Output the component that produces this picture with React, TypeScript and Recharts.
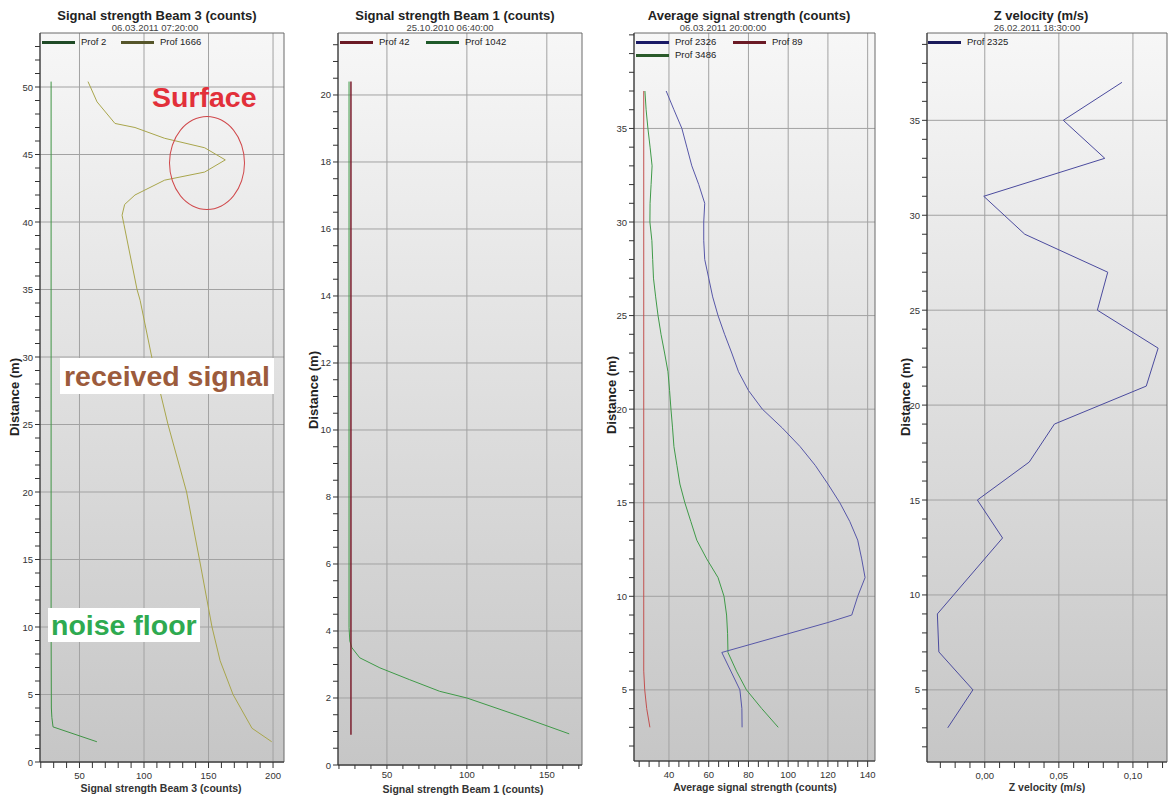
import React from 'react';
import { ScatterChart, Scatter, XAxis, YAxis, CartesianGrid, ReferenceArea } from 'recharts';

const FONT = '"Liberation Sans", Arial, sans-serif';
const H = 795;
const PLOT_TOP = 33;

type Pt = { v: number; d: number };

// Signal strength Beam 3 (counts) - 06.03.2011 07:20:00
const beam3Prof2: Pt[] = [
  { v: 28, d: 50.4 }, { v: 28, d: 30 }, { v: 28, d: 10 }, { v: 28.2, d: 4 },
  { v: 28.6, d: 3.3 }, { v: 29.5, d: 2.6 }, { v: 63.5, d: 1.5 },
];
const beam3Prof1666: Pt[] = [
  { v: 56.6, d: 50.4 }, { v: 63.6, d: 48.9 }, { v: 77.5, d: 47.3 }, { v: 93, d: 47 },
  { v: 116, d: 46.2 }, { v: 147, d: 45.5 }, { v: 163, d: 44.6 }, { v: 147, d: 43.7 },
  { v: 116, d: 43.1 }, { v: 93, d: 42 }, { v: 85, d: 41.3 }, { v: 83, d: 40.5 },
  { v: 84.5, d: 39.8 }, { v: 94.6, d: 35 }, { v: 97, d: 34.2 }, { v: 106, d: 30 },
  { v: 118.6, d: 25 }, { v: 133, d: 20 }, { v: 143, d: 15 }, { v: 152.7, d: 10 },
  { v: 159, d: 7.5 }, { v: 169, d: 5 }, { v: 183.7, d: 2.5 }, { v: 199, d: 1.5 },
];

// Signal strength Beam 1 (counts) - 25.10.2010 06:40:00
const beam1Prof42: Pt[] = [{ v: 27.5, d: 0.9 }, { v: 27.5, d: 20.4 }];
const beam1Prof1042: Pt[] = [
  { v: 26.3, d: 20.4 }, { v: 26.3, d: 4.1 }, { v: 26.8, d: 3.7 }, { v: 28.1, d: 3.5 },
  { v: 33, d: 3.2 }, { v: 45.6, d: 2.9 }, { v: 64, d: 2.55 }, { v: 83, d: 2.2 },
  { v: 100, d: 2.0 }, { v: 133, d: 1.46 }, { v: 164, d: 0.93 },
];

// Average signal strength (counts) - 06.03.2011 20:00:00
const avgProf2326: Pt[] = [
  { v: 38.6, d: 37 }, { v: 42.5, d: 36 }, { v: 46.5, d: 35 }, { v: 49, d: 34 },
  { v: 51.5, d: 33 }, { v: 55, d: 32 }, { v: 58, d: 31 }, { v: 57.5, d: 30 },
  { v: 57.5, d: 29 }, { v: 58, d: 28 }, { v: 60, d: 27 }, { v: 62, d: 26 },
  { v: 64.7, d: 25 }, { v: 68, d: 24 }, { v: 71.6, d: 23 }, { v: 75, d: 22 },
  { v: 80, d: 21 }, { v: 87, d: 20 }, { v: 97, d: 19 }, { v: 106, d: 18 },
  { v: 113.6, d: 17 }, { v: 120, d: 16 }, { v: 126, d: 15 }, { v: 131, d: 14 },
  { v: 135, d: 13 }, { v: 137, d: 12 }, { v: 138.7, d: 11 }, { v: 135, d: 10 },
  { v: 132, d: 9 }, { v: 120, d: 8.6 }, { v: 66.6, d: 7 }, { v: 75.7, d: 5 },
  { v: 76.7, d: 4 }, { v: 76.8, d: 3 },
];
const avgProf89: Pt[] = [
  { v: 27.3, d: 37 }, { v: 27.3, d: 6 }, { v: 27.8, d: 5 }, { v: 28.8, d: 4 }, { v: 30.4, d: 3 },
];
const avgProf3486: Pt[] = [
  { v: 27.9, d: 37 }, { v: 28.5, d: 36 }, { v: 29.4, d: 35 }, { v: 30.5, d: 34 },
  { v: 31.5, d: 33 }, { v: 31, d: 32 }, { v: 30.5, d: 31 }, { v: 30.4, d: 30 },
  { v: 31.4, d: 29 }, { v: 31.8, d: 28 }, { v: 32.2, d: 27 }, { v: 33.3, d: 26 },
  { v: 34.5, d: 25 }, { v: 36, d: 24 }, { v: 37.8, d: 23 }, { v: 39.5, d: 22 },
  { v: 40.3, d: 21 }, { v: 41, d: 20 }, { v: 41.8, d: 19 }, { v: 42.5, d: 18 },
  { v: 44, d: 17 }, { v: 45.5, d: 16 }, { v: 48, d: 15 }, { v: 51, d: 14 },
  { v: 54, d: 13 }, { v: 59, d: 12 }, { v: 64.7, d: 11 }, { v: 67.7, d: 10 },
  { v: 69, d: 9 }, { v: 69.5, d: 8 }, { v: 69.7, d: 7 }, { v: 74, d: 6 },
  { v: 79, d: 5 }, { v: 86.7, d: 4 }, { v: 95, d: 3 },
];

// Z velocity (m/s) - 26.02.2011 18:30:00
const zvelProf2325: Pt[] = [
  { v: 0.0926, d: 37 }, { v: 0.053, d: 35 }, { v: 0.081, d: 33 }, { v: -0.0007, d: 31 },
  { v: 0.027, d: 29 }, { v: 0.083, d: 27 }, { v: 0.076, d: 25 }, { v: 0.117, d: 23 },
  { v: 0.109, d: 21 }, { v: 0.047, d: 19 }, { v: 0.03, d: 17 }, { v: -0.005, d: 15 },
  { v: 0.012, d: 13 }, { v: -0.032, d: 9 }, { v: -0.031, d: 7 }, { v: -0.008, d: 5 },
  { v: -0.025, d: 3 },
];

// major (labelled) ticks
const p1YMajor = [0, 5, 10, 15, 20, 25, 30, 35, 40, 45, 50];
const p1XMajor = [50, 100, 150, 200];
const p2YMajor = [0, 2, 4, 6, 8, 10, 12, 14, 16, 18, 20];
const p2XMajor = [50, 100, 150];
const p3YMajor = [5, 10, 15, 20, 25, 30, 35];
const p3XMajor = [40, 60, 80, 100, 120, 140];
const p4YMajor = [5, 10, 15, 20, 25, 30, 35];
const p4XMajor = [0, 0.05, 0.1];

const steps = (from: number, to: number, step: number) => {
  const out: number[] = [];
  for (let i = 0; from + i * step <= to + 1e-9; i++) out.push(Math.round((from + i * step) * 1e6) / 1e6);
  return out;
};

const NoDot = () => <g />;

interface Series { name: string; data: Pt[]; line: string; w?: number }
interface LegendItem { name: string; color: string; x: number; y: number }
interface PanelCfg {
  id: string; left: number; width: number; plotLeft: number; plotRight: number; plotBottom: number;
  xDomain: [number, number]; yDomain: [number, number];
  xTicks: number[]; yTicks: number[]; xMajor: number[]; yMajor: number[];
  fmtX: (v: number) => string; series: Series[];
  tickSize: number; tickMargin: number;
  title: string; titleX: number; sub: string; subX: number;
  xLabel: string; xLabelX: number; xLabelY: number; yLabelX: number; yLabelY: number;
  legend: LegendItem[];
}

const isMajor = (majors: number[], v: number) => majors.some((m) => Math.abs(m - v) < 1e-9);

const Panel = ({ c }: { c: PanelCfg }) => {
  const xTick = (p: any) =>
    isMajor(c.xMajor, p.payload.value) ? (
      <text x={p.x} y={p.y} dy={8.5} textAnchor="middle" fontSize={9.5} fill="#333" fontFamily={FONT}>
        {c.fmtX(p.payload.value)}
      </text>
    ) : <g />;
  const yTick = (p: any) =>
    isMajor(c.yMajor, p.payload.value) ? (
      <text x={p.x} y={p.y} dy={3.5} textAnchor="end" fontSize={9.5} fill="#333" fontFamily={FONT}>
        {p.payload.value}
      </text>
    ) : <g />;
  return (
    <div style={{ position: 'absolute', left: c.left, top: 0 }}>
      <ScatterChart
        width={c.width}
        height={H}
        margin={{ top: PLOT_TOP, right: c.width - c.plotRight, bottom: 0, left: 0 }}
      >
        <defs>
          <linearGradient id={`bg-${c.id}`} x1="0" y1="0" x2="0" y2="1">
            <stop offset="0%" stopColor="#f7f7f7" />
            <stop offset="100%" stopColor="#c6c6c6" />
          </linearGradient>
        </defs>
        <CartesianGrid
          fill={`url(#bg-${c.id})`}
          stroke="#a2a2a2"
          horizontalValues={c.yMajor}
          verticalValues={c.xMajor}
        />
        <XAxis
          type="number"
          dataKey="v"
          domain={c.xDomain}
          ticks={c.xTicks}
          interval={0}
          allowDataOverflow
          height={H - c.plotBottom}
          tickSize={c.tickSize}
          tickMargin={c.tickMargin}
          stroke="#333"
          tick={xTick}
        />
        <YAxis
          type="number"
          dataKey="d"
          domain={c.yDomain}
          ticks={c.yTicks}
          interval={0}
          allowDataOverflow
          width={c.plotLeft}
          tickSize={5}
          tickMargin={2}
          stroke="#333"
          tick={yTick}
        />
        <ReferenceArea
          x1={c.xDomain[0]} x2={c.xDomain[1]} y1={c.yDomain[0]} y2={c.yDomain[1]}
          fill="none" stroke="#6a6a6a" ifOverflow="visible"
        />
        {c.series.map((s) => (
          <Scatter
            key={s.name}
            name={s.name}
            data={s.data}
            line={{ stroke: s.line, strokeWidth: s.w ?? 1 }}
            lineType="joint"
            shape={NoDot}
            isAnimationActive={false}
          />
        ))}
      </ScatterChart>
    </div>
  );
};

const txt = (x: number, y: number, extra: React.CSSProperties = {}): React.CSSProperties => ({
  position: 'absolute', left: x, top: y, transform: 'translate(-50%, -50%)',
  whiteSpace: 'nowrap', lineHeight: 1, fontFamily: FONT, color: '#222', ...extra,
});

const Overlay = ({ c }: { c: PanelCfg }) => (
  <>
    <div style={txt(c.titleX, 15, { fontSize: 13, fontWeight: 700 })}>{c.title}</div>
    <div style={txt(c.subX, 28, { fontSize: 9.5, color: '#444' })}>{c.sub}</div>
    <div style={txt(c.xLabelX, c.xLabelY, { fontSize: 10.5, fontWeight: 700, color: '#333' })}>{c.xLabel}</div>
    <div style={txt(c.yLabelX, c.yLabelY, { fontSize: 13, fontWeight: 700, transform: 'translate(-50%, -50%) rotate(-90deg)' })}>
      Distance (m)
    </div>
    {c.legend.map((l) => (
      <React.Fragment key={l.name}>
        <div style={{ position: 'absolute', left: l.x, top: l.y - 1.5, width: 33, height: 3, background: l.color }} />
        <div style={{ position: 'absolute', left: l.x + 39, top: l.y - 5, fontSize: 9.5, lineHeight: '10px', fontFamily: FONT, color: '#222', whiteSpace: 'nowrap' }}>
          {l.name}
        </div>
      </React.Fragment>
    ))}
  </>
);

const fmtInt = (v: number) => String(v);
const fmtComma = (v: number) => v.toFixed(2).replace('.', ',');

const panels: PanelCfg[] = [
  {
    id: 'p1', left: 0, width: 290, plotLeft: 40, plotRight: 284, plotBottom: 762,
    xDomain: [19.4, 208.5], yDomain: [0, 54],
    xTicks: steps(20, 200, 10), yTicks: steps(0, 53, 1), xMajor: p1XMajor, yMajor: p1YMajor,
    fmtX: fmtInt, tickSize: 6, tickMargin: 2,
    series: [
      { name: 'Prof 2', data: beam3Prof2, line: '#3f9444' },
      { name: 'Prof 1666', data: beam3Prof1666, line: '#a9a64c' },
    ],
    title: 'Signal strength Beam 3 (counts)', titleX: 157, sub: '06.03.2011 07:20:00', subX: 155,
    xLabel: 'Signal strength Beam 3 (counts)', xLabelX: 161, xLabelY: 788, yLabelX: 14, yLabelY: 397,
    legend: [
      { name: 'Prof 2', color: '#1f4a26', x: 42, y: 42 },
      { name: 'Prof 1666', color: '#55552a', x: 121, y: 42 },
    ],
  },
  {
    id: 'p2', left: 290, width: 300, plotLeft: 48, plotRight: 292, plotBottom: 765,
    xDomain: [19.4, 172], yDomain: [0, 21.85],
    xTicks: steps(20, 170, 10), yTicks: steps(0, 21.5, 0.5), xMajor: p2XMajor, yMajor: p2YMajor,
    fmtX: fmtInt, tickSize: 4, tickMargin: 0,
    series: [
      { name: 'Prof 1042', data: beam1Prof1042, line: '#3f9a48' },
      { name: 'Prof 42', data: beam1Prof42, line: '#7a1f2e', w: 1.5 },
    ],
    title: 'Signal strength Beam 1 (counts)', titleX: 455, sub: '25.10.2010 06:40:00', subX: 450,
    xLabel: 'Signal strength Beam 1 (counts)', xLabelX: 463, xLabelY: 789, yLabelX: 313, yLabelY: 390,
    legend: [
      { name: 'Prof 42', color: '#6b1a25', x: 340, y: 42 },
      { name: 'Prof 1042', color: '#1f5a2a', x: 426, y: 42 },
    ],
  },
  {
    id: 'p3', left: 590, width: 290, plotLeft: 44, plotRight: 285, plotBottom: 761,
    xDomain: [22.4, 143.7], yDomain: [1.2, 40.1],
    xTicks: steps(25, 140, 5), yTicks: steps(2, 40, 1), xMajor: p3XMajor, yMajor: p3YMajor,
    fmtX: fmtInt, tickSize: 6, tickMargin: 2,
    series: [
      { name: 'Prof 89', data: avgProf89, line: '#c2504f' },
      { name: 'Prof 3486', data: avgProf3486, line: '#3f9a48' },
      { name: 'Prof 2326', data: avgProf2326, line: '#5757a8' },
    ],
    title: 'Average signal strength (counts)', titleX: 749, sub: '06.03.2011 20:00:00', subX: 723,
    xLabel: 'Average signal strength (counts)', xLabelX: 755, xLabelY: 787, yLabelX: 611, yLabelY: 395,
    legend: [
      { name: 'Prof 2326', color: '#1a1a66', x: 636, y: 42 },
      { name: 'Prof 89', color: '#6b1a25', x: 733, y: 42 },
      { name: 'Prof 3486', color: '#2a5a2a', x: 636, y: 55 },
    ],
  },
  {
    id: 'p4', left: 880, width: 290, plotLeft: 47, plotRight: 287, plotBottom: 762,
    xDomain: [-0.039, 0.123], yDomain: [1.2, 39.6],
    xTicks: steps(-0.03, 0.12, 0.01), yTicks: steps(2, 39, 1), xMajor: p4XMajor, yMajor: p4YMajor,
    fmtX: fmtComma, tickSize: 6, tickMargin: 2,
    series: [{ name: 'Prof 2325', data: zvelProf2325, line: '#4b4b9e' }],
    title: 'Z velocity (m/s)', titleX: 1041, sub: '26.02.2011 18:30:00', subX: 1037,
    xLabel: 'Z velocity (m/s)', xLabelX: 1047, xLabelY: 787, yLabelX: 905, yLabelY: 397,
    legend: [{ name: 'Prof 2325', color: '#1a1a5a', x: 928, y: 42 }],
  },
];

const bigText = (color: string): React.CSSProperties => ({
  position: 'absolute', fontFamily: FONT, fontWeight: 700, fontSize: 28.5, lineHeight: '30px',
  color, whiteSpace: 'nowrap',
});

export default function App() {
  return (
    <div style={{ position: 'absolute', left: 0, top: 0, width: 1170, height: H, background: '#fff', overflow: 'hidden' }}>
      {panels.map((c) => <Panel key={c.id} c={c} />)}
      {panels.map((c) => <Overlay key={`o-${c.id}`} c={c} />)}
      {/* annotations on the first panel */}
      <div style={{ ...bigText('#e2303a'), left: 152, top: 82 }}>Surface</div>
      <div style={{ position: 'absolute', left: 169, top: 116, width: 76, height: 94, border: '1px solid #d0474a', borderRadius: '50%', boxSizing: 'border-box' }} />
      <div style={{ ...bigText('#9c5b3c'), left: 60, top: 358, background: '#fff', padding: '3px 4px' }}>received signal</div>
      <div style={{ ...bigText('#2eaa50'), left: 48, top: 608, background: '#fff', padding: '2px 3px' }}>noise floor</div>
    </div>
  );
}
